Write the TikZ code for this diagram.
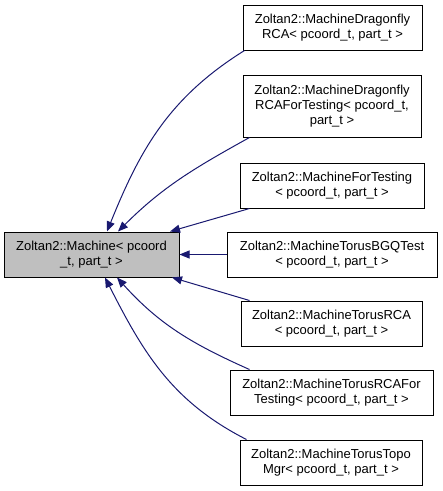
\documentclass[tikz,border=0pt]{standalone}
\usepackage{fontspec}
\setmainfont{Liberation Sans}
\usetikzlibrary{arrows.meta}
\definecolor{edgeblue}{RGB}{25,25,112}
\definecolor{basegray}{RGB}{191,191,191}

\begin{document}
\begin{tikzpicture}[
	x=1pt, y=1pt,
	base/.style={
		rectangle,
		draw=black,
		line width=1pt,
		align=center,
		fill=basegray,
		font=\fontsize{13}{15}\selectfont,
		inner sep=0pt,
		minimum height=45pt,
		minimum width=175pt
	},
	derived/.style={
		rectangle,
		draw=black,
		line width=1pt,
		align=center,
		fill=white,
		font=\fontsize{13}{15}\selectfont,
		inner sep=0pt,
		minimum height=45pt
	},
	inherit/.style={
		draw=edgeblue,
		line width=1pt,
		-{Triangle[length=10pt,width=8pt]}
	},
]

\useasboundingbox (0,0) rectangle (443,-491);

%% Nodes %%
% base class %
\node[base] (machine) at (91.5,-254.5) {Zoltan2::Machine< pcoord\\\_t, part\_t >};

% derived classes %
\node[derived, minimum width=179pt] (dfly) at (332.5,-27.5) {Zoltan2::MachineDragonfly\\RCA< pcoord\_t, part\_t >};
\node[derived, minimum width=178pt, minimum height=62pt] (dflytest) at (332,-106) {Zoltan2::MachineDragonfly\\RCAForTesting< pcoord\_t,\\part\_t >};
\node[derived, minimum width=184pt] (fortest) at (332,-185.5) {Zoltan2::MachineForTesting\\< pcoord\_t, part\_t >};
\node[derived, minimum width=210pt] (bgq) at (332,-254.5) {Zoltan2::MachineTorusBGQTest\\< pcoord\_t, part\_t >};
\node[derived, minimum width=181pt] (torus) at (331.5,-323.5) {Zoltan2::MachineTorusRCA\\< pcoord\_t, part\_t >};
\node[derived, minimum width=203pt] (torustest) at (331.5,-392.5) {Zoltan2::MachineTorusRCAFor\\Testing< pcoord\_t, part\_t >};
\node[derived, minimum width=182pt] (topo) at (331,-462.5) {Zoltan2::MachineTorusTopo\\Mgr< pcoord\_t, part\_t >};

%% Connection arrows %%
% upper half %
\draw[inherit] ([xshift=2pt]dfly.south west) to[out=212, in=68] ([xshift=15.5pt]machine.north);
\draw[inherit] ([xshift=7pt]dflytest.south west) to[out=209, in=45] ([xshift=26.5pt]machine.north);
\draw[inherit] ([xshift=10pt]fortest.south west) -- ([xshift=78.5pt]machine.north);

% middle %
\draw[inherit] (bgq.west) -- (machine.east);

% lower half %
\draw[inherit] ([xshift=9pt]torus.north west) -- ([xshift=80.5pt]machine.south);
\draw[inherit] ([xshift=20pt]torustest.north west) to[out=156, in=-48] ([xshift=25.5pt]machine.south);
\draw[inherit] ([xshift=7pt]topo.north west) to[out=153, in=-63] ([xshift=13.5pt]machine.south);

\end{tikzpicture}
\end{document}
